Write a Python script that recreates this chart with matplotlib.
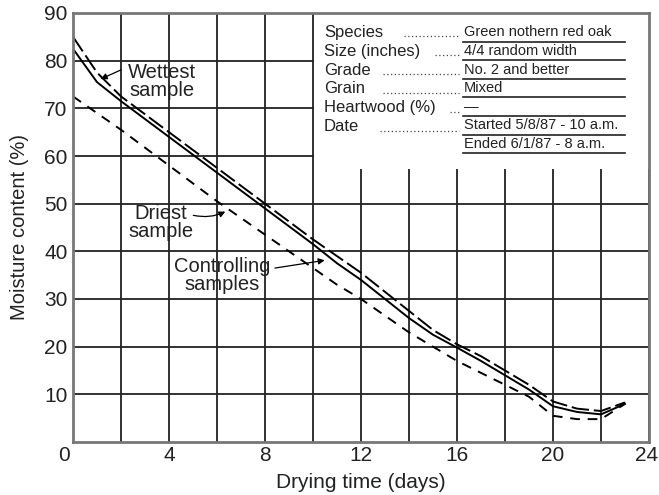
import numpy as np
import matplotlib.pyplot as plt
import matplotlib.transforms as mtransforms
from matplotlib.patches import Rectangle

plt.rcParams['font.family'] = ['Liberation Sans', 'DejaVu Sans']

# 数据
days = [0, 1, 2, 4, 6, 8, 10, 11, 12, 13, 14, 15, 16, 17, 18, 19, 20, 21, 22, 23]
wettest = [85, 77.5, 72.5, 65, 57.5, 50, 42.5, 39, 35.5, 31.5, 27.5, 23.5, 20.5, 18, 15, 12, 8.5, 7, 6.5, 8.3]
controlling = [82.5, 75.5, 71.5, 64, 56.5, 49, 41.5, 37.5, 34, 30, 26, 22.5, 19.8, 17, 14, 11, 7.5, 6.3, 5.8, 8]
driest = [72.5, 69, 65.5, 58, 50.5, 43.5, 36.5, 33, 30, 26.5, 23, 20, 17, 14.5, 12, 9.5, 5.5, 4.8, 4.8, 8]

info_labels = ['Species', 'Size (inches)', 'Grade', 'Grain', 'Heartwood (%)', 'Date']
info_values = ['Green nothern red oak', '4/4 random width', 'No. 2 and better', 'Mixed',
               '—', 'Started 5/8/87 - 10 a.m.', 'Ended 6/1/87 - 8 a.m.']

fig = plt.figure(figsize=(6.59, 4.95), dpi=100)
ax = fig.add_axes([73/659, 53/495, 576/659, 429/495])

ax.set_xlim(0, 24)
ax.set_ylim(0, 90)
ax.set_xticks(np.arange(0, 25, 4))
ax.set_xticks(np.arange(0, 25, 2), minor=True)
ax.set_yticks(np.arange(10, 91, 10))
ax.grid(True, which='both', color='#222222', linewidth=1.3)
ax.tick_params(which='both', length=0, labelsize=15, colors='#222222')
ax.tick_params(axis='y', pad=4)
ax.tick_params(axis='x', pad=3)
for s in ax.spines.values():
    s.set_color('#777777')
    s.set_linewidth(2)
ax.set_axisbelow(True)

# 首尾刻度标签稍作偏移
xlabels = ax.get_xticklabels()
xlabels[0].set_transform(xlabels[0].get_transform() +
                         mtransforms.ScaledTranslation(-9/100, 0, fig.dpi_scale_trans))
xlabels[-1].set_transform(xlabels[-1].get_transform() +
                          mtransforms.ScaledTranslation(-2/100, 0, fig.dpi_scale_trans))

ax.set_xlabel('Drying time (days)', fontsize=15, labelpad=6, color='#222222')
ax.set_ylabel('Moisture content (%)', fontsize=14.5, labelpad=11, color='#222222')

# 曲线
ax.plot(days, wettest, color='black', lw=1.4, dashes=(9, 2.5))
ax.plot(days, controlling, color='black', lw=1.4)
ax.plot(days, driest, color='black', lw=1.4, dashes=(5, 4))

# 说明框
ax.add_patch(Rectangle((10.05, 57.3), 13.95, 32.7, facecolor='white', edgecolor='none', zorder=2))
row_y = [86.0, 82.0, 78.0, 74.2, 70.2, 66.2]
val_y = [86.0, 82.0, 78.0, 74.2, 70.3, 66.4, 62.5]
line_y = [83.9, 80.1, 76.1, 72.3, 68.3, 64.4, 60.6]
lead_start = [13.8, 15.1, 12.9, 12.9, 15.7, 12.8]
for lab, y, xs in zip(info_labels, row_y, lead_start):
    ax.text(10.45, y, lab, fontsize=12, va='center', ha='left', zorder=3, color='#222222')
    ax.plot([xs, 16.1], [y - 0.9, y - 0.9], color='#444444', lw=0.9, ls=(0, (1, 2)), zorder=3)
for v, y, ly in zip(info_values, val_y, line_y):
    ax.text(16.3, y, v, fontsize=10.5, va='center', ha='left', zorder=3, color='#222222')
    ax.plot([16.25, 23.0], [ly, ly], color='#222222', lw=1.2, zorder=3)

# 标注
arw = dict(arrowstyle='-|>', color='black', lw=0.9, mutation_scale=9)
ax.text(3.7, 75.7, 'Wettest\nsample', fontsize=14.5, ha='center', va='center', linespacing=0.95,
        color='#222222')
ax.annotate('', xy=(1.05, 75.9), xytext=(2.1, 78.3), arrowprops=arw)
ax.text(3.65, 46.1, 'Driest\nsample', fontsize=14.5, ha='center', va='center', linespacing=0.95,
        color='#222222')
ax.annotate('', xy=(6.45, 48.6), xytext=(4.9, 47.7),
            arrowprops=dict(arw, connectionstyle='arc3,rad=0.2'))
ax.text(6.2, 35.0, 'Controlling\nsamples', fontsize=14.5, ha='center', va='center', linespacing=0.95,
        color='#222222')
ax.annotate('', xy=(10.6, 38.2), xytext=(8.3, 36.4), arrowprops=arw)

fig.savefig('out.png', dpi=100)
